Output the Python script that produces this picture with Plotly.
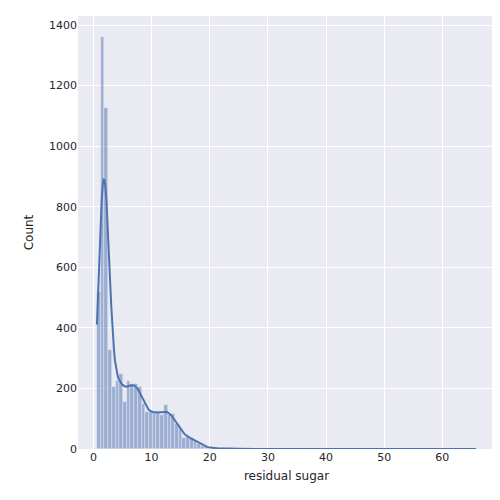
import numpy as np
import plotly.graph_objects as go

# residual sugar histogram (102 bins from 0.6 to 65.8)
bin_start = 0.6
bin_end = 65.8
counts_head = [518, 1362, 1127, 328, 205, 225, 248, 155, 226, 215, 215, 205,
               148, 121, 121, 121, 121, 111, 145, 111, 115, 81, 70, 37, 40,
               37, 27, 17, 10, 6, 4, 3, 2, 2, 1, 1, 1, 0, 1, 0, 0, 0, 0, 0,
               0, 0, 0, 0, 1, 0, 0, 0, 0, 0, 0]
counts = counts_head + [0] * (102 - len(counts_head) - 1) + [1]

edges = np.linspace(bin_start, bin_end, len(counts) + 1)
centers = (edges[:-1] + edges[1:]) / 2
width = edges[1] - edges[0]

# kde like seaborn (cut=0), estimated from the binned counts
w = np.array(counts, dtype=float)
n = w.sum()
mean = (w * centers).sum() / n
std = np.sqrt((w * (centers - mean) ** 2).sum() / n)
bw = std * n ** (-0.2)
xs = np.linspace(bin_start, bin_end, 400)
dens = (w[None, :] * np.exp(-0.5 * ((xs[:, None] - centers[None, :]) / bw) ** 2)).sum(1)
dens = dens / (n * bw * np.sqrt(2 * np.pi)) * n * width

blue = "#4C72B0"
fig = go.Figure()
fig.add_trace(go.Bar(x=centers, y=counts, width=width,
                     marker=dict(color="rgba(76,114,176,0.5)",
                                 line=dict(color="rgba(234,234,242,0.8)", width=0.6)),
                     showlegend=False))
fig.add_trace(go.Scatter(x=xs, y=dens, mode="lines",
                         line=dict(color=blue, width=2), showlegend=False))

fig.update_layout(
    width=500, height=500,
    margin=dict(l=70, r=13, t=8, b=59),
    paper_bgcolor="white", plot_bgcolor="#EAEAF2",
    font=dict(family="DejaVu Sans", size=11, color="#262626"),
    bargap=0,
    xaxis=dict(range=[-2.66, 69.06], tickvals=[0, 10, 20, 30, 40, 50, 60],
               gridcolor="white", gridwidth=1.2, zeroline=False,
               title=dict(text="residual sugar", font=dict(size=12), standoff=8)),
    yaxis=dict(range=[0, 1430], tickvals=[0, 200, 400, 600, 800, 1000, 1200, 1400],
               gridcolor="white", gridwidth=1.2, zeroline=False,
               title=dict(text="Count", font=dict(size=12), standoff=12)),
)
fig.write_html("out.html")
